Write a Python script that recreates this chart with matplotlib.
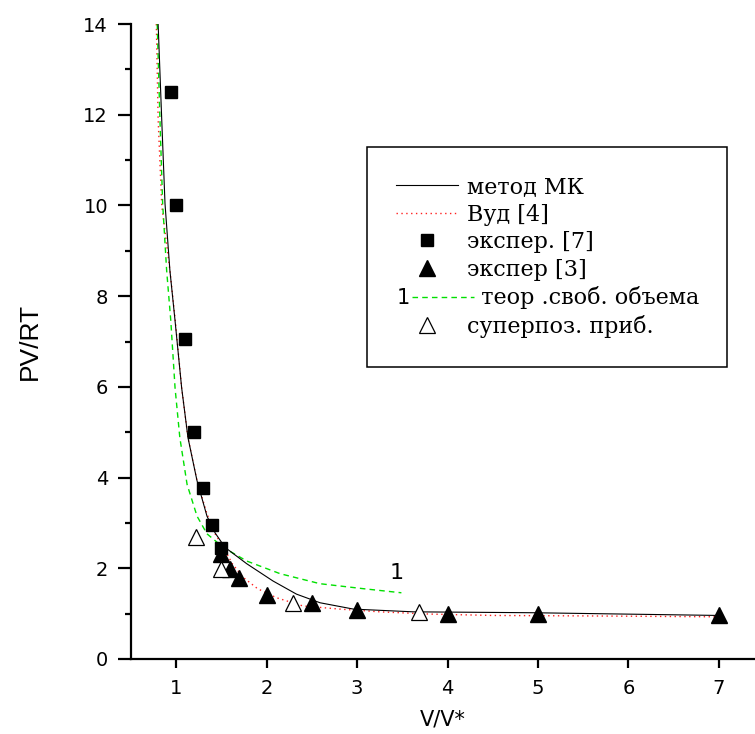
import matplotlib
matplotlib.use("Agg")
import matplotlib.pyplot as plt
import numpy as np

# Data
mc_x = [0.80, 0.84, 0.876, 0.93, 0.987, 1.06, 1.13, 1.23, 1.34, 1.43, 1.54, 1.78, 2.07, 2.33, 2.59, 2.96, 3.62, 4.95, 7.0]
mc_y = [14.0, 11.88, 10.04, 8.57, 7.46, 5.98, 4.88, 3.93, 3.15, 2.78, 2.46, 2.10, 1.72, 1.43, 1.24, 1.10, 1.04, 1.02, 0.96]

wood_x = [0.78, 0.80, 0.84, 0.93, 0.99, 1.06, 1.13, 1.23, 1.34, 1.43, 1.54, 1.62, 1.74, 1.90, 2.11, 2.40, 2.81, 3.25, 3.81, 4.50, 5.50, 7.0]
wood_y = [14.0, 11.9, 10.0, 8.57, 7.46, 5.98, 4.88, 3.93, 3.20, 2.76, 2.40, 2.10, 1.80, 1.55, 1.35, 1.17, 1.10, 1.04, 0.99, 0.96, 0.95, 0.93]

fv_x = [0.79, 0.82, 0.85, 0.894, 0.94, 0.987, 1.04, 1.12, 1.23, 1.34, 1.52, 1.78, 2.15, 2.59, 3.07, 3.49]
fv_y = [14.0, 11.9, 10.04, 8.57, 7.46, 5.98, 4.88, 3.85, 3.15, 2.76, 2.46, 2.16, 1.88, 1.66, 1.55, 1.46]

exp7_x = [0.94, 1.0, 1.1, 1.2, 1.3, 1.4, 1.5]
exp7_y = [12.5, 10.0, 7.06, 5.0, 3.77, 2.96, 2.45]

exp3_x = [1.5, 1.6, 1.69, 2.0, 2.5, 3.0, 4.0, 5.0, 7.0]
exp3_y = [2.32, 1.99, 1.78, 1.41, 1.24, 1.08, 1.0, 0.99, 0.97]

sup_x = [1.22, 1.49, 2.29, 3.69]
sup_y = [2.69, 1.99, 1.24, 1.04]

labels = ["метод МК", "Вуд [4]", "экспер. [7]", "экспер [3]", "  теор .своб. объема", "суперпоз. приб."]
xticks = [1, 2, 3, 4, 5, 6, 7]
yticks = [0, 2, 4, 6, 8, 10, 12, 14]
yminor = [1, 3, 5, 7, 9, 11, 13]

sans = ["DejaVu Sans"]
serif = ["DejaVu Serif"]

fig = plt.figure(figsize=(7.55, 7.34), dpi=100)
ax = fig.add_axes([131 / 755, 75 / 734, 624 / 755, 635 / 734])

h_mc, = ax.plot(mc_x, mc_y, color="black", lw=0.8, zorder=3)
h_wood, = ax.plot(wood_x, wood_y, color="#ff2020", lw=1.0, ls=(0, (1, 2.5)), zorder=2)
h_fv, = ax.plot(fv_x, fv_y, color="#00e000", lw=1.0, ls=(0, (4, 3)), zorder=2)
h_e7, = ax.plot(exp7_x, exp7_y, ls="none", marker="s", ms=8.5, color="black", zorder=4)
h_e3, = ax.plot(exp3_x, exp3_y, ls="none", marker="^", ms=12, color="black", zorder=4)
h_sup, = ax.plot(sup_x, sup_y, ls="none", marker="^", ms=11.5, mfc="white", mec="black", mew=0.9, zorder=4)

ax.text(3.44, 1.9, "1", fontsize=16, family=sans, ha="center", va="center")

ax.set_xlim(0.5, 7.4)
ax.set_ylim(0, 14)
ax.set_xticks(xticks)
ax.set_yticks(yticks)
ax.set_yticks(yminor, minor=True)
ax.spines["top"].set_visible(False)
ax.spines["right"].set_visible(False)
for s in ("left", "bottom"):
    ax.spines[s].set_linewidth(1.6)
ax.tick_params(axis="both", which="major", direction="out", width=1.6, labelsize=14)
ax.tick_params(axis="x", which="major", length=6.5, pad=8)
ax.tick_params(axis="y", which="major", length=9.5, pad=7)
ax.tick_params(axis="y", which="minor", direction="out", length=4.5, width=1.6)
for lab in ax.get_xticklabels() + ax.get_yticklabels():
    lab.set_family(sans)

ax.set_xlabel("V/V*", fontsize=15, family=sans, labelpad=8)
ax.set_ylabel("PV/RT", fontsize=19, family=["Liberation Sans", "DejaVu Sans"], labelpad=30)

leg = ax.legend([h_mc, h_wood, h_e7, h_e3, h_fv, h_sup], labels,
                loc="upper left", bbox_to_anchor=(0.378, 0.806, 0.577, 0.0), mode="expand",
                prop={"family": serif, "size": 16}, frameon=True, fancybox=False,
                edgecolor="black", framealpha=1, borderpad=1.3, labelspacing=0.25,
                handlelength=2.8, handletextpad=0.4, numpoints=1, borderaxespad=0)
leg.get_frame().set_linewidth(1.1)
leg.set_zorder(6)

fig.canvas.draw()
# shift the green dashed legend sample right and put "1" before it
hl = leg.legend_handles[4]
hl.set_xdata(np.asarray(hl.get_xdata()) + 11.5)
fig.canvas.draw()
lb = hl.get_window_extent(fig.canvas.get_renderer())
tb = leg.get_texts()[4].get_window_extent()
inv = ax.transAxes.inverted()
x_ax, y_ax = inv.transform((lb.x0 - 8, (tb.y0 + tb.y1) / 2))
ax.text(x_ax, y_ax, "1", transform=ax.transAxes, fontsize=15, family=sans,
        ha="center", va="center", zorder=7)

fig.savefig("out.png", dpi=100)
